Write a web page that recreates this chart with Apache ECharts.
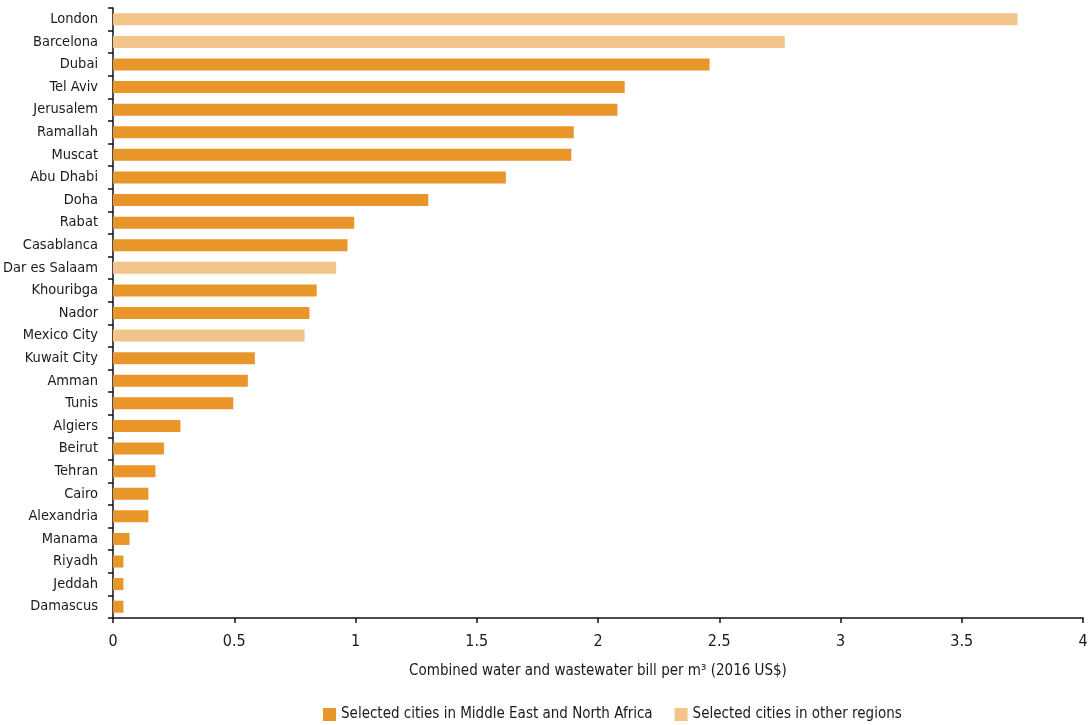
<!DOCTYPE html>
<html>
<head>
<meta charset="utf-8">
<script src="https://cdn.jsdelivr.net/npm/echarts@6/dist/echarts.min.js"></script>
<style>
html,body{margin:0;padding:0;background:#fff;}
#chart{width:1091px;height:725px;}
</style>
</head>
<body>
<div id="chart"></div>
<script>
const cities = ["London","Barcelona","Dubai","Tel Aviv","Jerusalem","Ramallah","Muscat","Abu Dhabi","Doha","Rabat","Casablanca","Dar es Salaam","Khouribga","Nador","Mexico City","Kuwait City","Amman","Tunis","Algiers","Beirut","Tehran","Cairo","Alexandria","Manama","Riyadh","Jeddah","Damascus"];
const bills = [3.73,2.77,2.46,2.11,2.08,1.90,1.89,1.62,1.30,0.995,0.967,0.92,0.84,0.81,0.79,0.585,0.556,0.496,0.278,0.21,0.175,0.146,0.146,0.068,0.043,0.043,0.043];
const otherRegions = ["London","Barcelona","Dar es Salaam","Mexico City"];
const seriesNames = ["Selected cities in Middle East and North Africa","Selected cities in other regions"];
const xTicks = {min:0, max:4, interval:0.5};
const axisTitle = "Combined water and wastewater bill per m\u00B3 (2016 US$)";

const menaData = cities.map((c,i)=> otherRegions.includes(c) ? '-' : bills[i]);
const otherData = cities.map((c,i)=> otherRegions.includes(c) ? bills[i] : '-');

const FONT = "'DejaVu Sans Condensed','Liberation Sans Narrow',sans-serif";
const FS = 15;
const TXT = '#1a1a1a';
const chart = echarts.init(document.getElementById('chart'));
chart.setOption({
  animation:false,
  textStyle:{fontFamily:FONT},
  grid:{left:113,right:8,top:8,bottom:107,containLabel:false,outerBoundsMode:'none'},
  legend:{
    top:702,left:318,itemWidth:13,itemHeight:13,itemGap:22,icon:'rect',
    textStyle:{fontFamily:FONT,fontSize:FS,color:TXT},
    data:seriesNames
  },
  xAxis:{
    type:'value',min:xTicks.min,max:xTicks.max,interval:xTicks.interval,
    name:axisTitle,nameLocation:'middle',nameGap:46,
    nameTextStyle:{fontFamily:FONT,fontSize:FS,color:TXT},
    axisLine:{show:true,lineStyle:{color:'#111',width:1.5}},
    axisTick:{show:true,length:5,lineStyle:{color:'#111',width:1.5}},
    axisLabel:{fontFamily:FONT,fontSize:16,color:TXT,margin:16},
    splitLine:{show:false}
  },
  yAxis:{
    type:'category',data:cities,inverse:true,
    axisLine:{show:true,lineStyle:{color:'#111',width:1.5}},
    axisTick:{show:true,length:5,lineStyle:{color:'#111',width:1.5}},
    axisLabel:{fontFamily:FONT,fontSize:14.5,color:TXT,margin:15}
  },
  series:[
    {name:seriesNames[0],type:'bar',stack:'s',data:menaData,barWidth:12,itemStyle:{color:'#E8952A'}},
    {name:seriesNames[1],type:'bar',stack:'s',data:otherData,barWidth:12,itemStyle:{color:'#F2C48A'}}
  ]
});
</script>
</body>
</html>
